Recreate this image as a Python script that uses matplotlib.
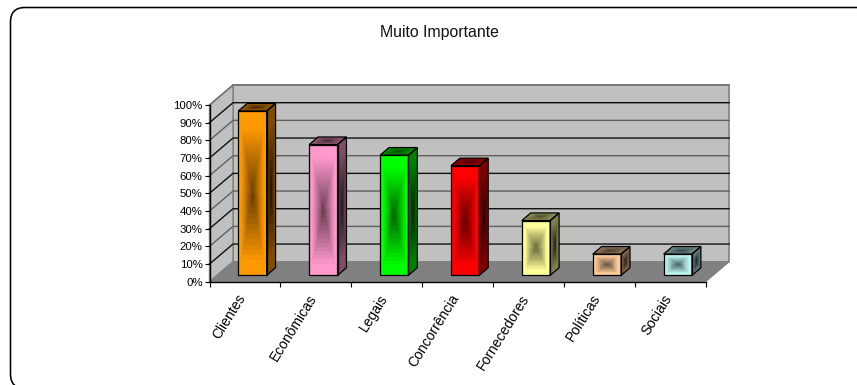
import matplotlib
matplotlib.use('Agg')
import numpy as np
import matplotlib.pyplot as plt
from matplotlib.patches import FancyBboxPatch, Polygon
from matplotlib.colors import to_rgb
from matplotlib.transforms import ScaledTranslation

# ------------ Data ---------------
categories = ['Clientes', 'Econômicas', 'Legais', 'Concorrência',
              'Fornecedores', 'Políticas', 'Sociais']
values = [93, 74, 68, 62, 31, 12, 12]
colors = ['#FF9900', '#FF99CC', '#00FF00', '#FF0000', '#FFFF99', '#FFCC99', '#BDF5F5']
y_ticks = [0, 10, 20, 30, 40, 50, 60, 70, 80, 90, 100]
y_labels = ['0%', '10%', '20%', '30%', '40%', '50%', '60%', '70%', '80%', '90%', '100%']

# oblique depth of the chart box, in data units
DX = 0.3315
DY = 11.3
BAR_W = 0.40
Z0, Z1 = 0.32, 0.70

W, H = 857, 385
plt.rcParams['font.family'] = ['Liberation Sans', 'DejaVu Sans']

fig = plt.figure(figsize=(W / 100, H / 100), dpi=100, facecolor='white')

# rounded frame, runs off the right and bottom of the picture
bg = fig.add_axes([0, 0, 1, 1])
bg.set_xlim(0, W)
bg.set_ylim(H, 0)
bg.axis('off')
bg.add_patch(FancyBboxPatch((25, 22), 880, 352, boxstyle='round,pad=14.5,rounding_size=14.5',
                            fc='white', ec='black', lw=1.15))
bg.text(439.5, 33, 'Muito Importante', ha='center', va='center', fontsize=11.4, color='#111111')

ax = fig.add_axes([209.5 / W, (H - 281.7) / H, 496.2 / W, 176.7 / H])
ax.patch.set_visible(False)


def proj(x, y, z):
    return x + z * DX, y + z * DY


def poly(pts, **kw):
    p = Polygon([proj(*q) for q in pts], closed=True, clip_on=False, **kw)
    ax.add_patch(p)


n = len(categories)
# walls and floor
poly([(0, 0, 1), (n, 0, 1), (n, 100, 1), (0, 100, 1)], fc='#C0C0C0', ec='#808080', lw=1.2, zorder=1)
poly([(0, 0, 0), (0, 0, 1), (0, 100, 1), (0, 100, 0)], fc='#C0C0C0', ec='#808080', lw=1.0, zorder=1)
poly([(0, 0, 0), (n, 0, 0), (n, 0, 1), (0, 0, 1)], fc='#808080', ec='#808080', lw=0.8, zorder=2)

# grid lines, alternate dark and gray like the source raster
for i, t in enumerate(y_ticks[1:], 1):
    c = '#606060' if i % 2 == 0 else '#101010'
    if t == 100:
        c = '#707070'
    xs, ys = zip(proj(0, t, 0), proj(0, t, 1), proj(n, t, 1))
    ax.plot(xs, ys, color=c, lw=1.0, clip_on=False, zorder=1.5)


def face(p0, pu, pv, rgb, top, bottom, nu, nv, levels=None):
    # gradient rectangle from the centre of the face outwards
    u = np.linspace(0, 1, nu + 1)
    v = np.linspace(0, 1, nv + 1)
    uu, vv = np.meshgrid(u, v)
    X = p0[0] + uu * (pu[0] - p0[0]) + vv * (pv[0] - p0[0])
    Y = p0[1] + uu * (pu[1] - p0[1]) + vv * (pv[1] - p0[1])
    uc = (u[:-1] + u[1:]) / 2 * 2 - 1
    vc = (v[:-1] + v[1:]) / 2 * 2 - 1
    ug, vg = np.meshgrid(uc, vc)
    d = np.maximum(np.abs(ug), np.abs(vg))
    if levels:
        # the banding only shows in the lower half of the source bars
        d = np.where(vg < 0, np.floor(d * levels) / levels, d)
    s = np.clip(1 - d / 0.8, 0, 1) ** 1.0
    f = top - (top - bottom) * s
    img = np.clip(np.dstack([np.array(rgb)[k] * f for k in range(3)]), 0, 1)
    ax.pcolormesh(X, Y, img, shading='flat', clip_on=False, zorder=3, antialiased=False)


for i, (val, col) in enumerate(zip(values, colors)):
    rgb = to_rgb(col)
    x0 = i + 0.5 - BAR_W / 2
    x1 = x0 + BAR_W
    nv = max(int(val * 1.8), 8)
    p = proj
    # top, side, front
    face(p(x0, val, Z0), p(x1, val, Z0), p(x0, val, Z1), rgb, 0.55, 0.28, 30, 10)
    face(p(x1, 0, Z0), p(x1, 0, Z1), p(x1, val, Z0), rgb, 0.50, 0.13, 10, nv)
    face(p(x0, 0, Z0), p(x1, 0, Z0), p(x0, val, Z0), rgb, 1.0, 0.42, 30, nv, levels=16)
    # outlines
    edge = dict(fc='none', ec='black', lw=0.9, zorder=4, joinstyle='miter')
    poly([(x0, 0, Z0), (x1, 0, Z0), (x1, val, Z0), (x0, val, Z0)], **edge)
    poly([(x1, 0, Z0), (x1, 0, Z1), (x1, val, Z1), (x1, val, Z0)], **edge)
    poly([(x0, val, Z0), (x1, val, Z0), (x1, val, Z1), (x0, val, Z1)], **edge)

ax.set_xlim(0, n)
ax.set_ylim(0, 100)
for s in ['top', 'right']:
    ax.spines[s].set_visible(False)
for s in ['left', 'bottom']:
    ax.spines[s].set_linewidth(1.0)
    ax.spines[s].set_zorder(5)
ax.set_yticks(y_ticks)
ax.set_yticklabels(y_labels, fontsize=8.2)
ax.tick_params(axis='y', length=3.5, width=0.8, pad=1.5)
ax.set_xticks(np.arange(n + 1))
ax.set_xticklabels([])
ax.tick_params(axis='x', which='major', length=3.5, width=0.8)
ax.set_xticks(np.arange(n) + 0.5, minor=True)
ax.set_xticklabels(categories, minor=True, fontsize=10, rotation=58, ha='right',
                   va='center', rotation_mode='anchor')
ax.tick_params(axis='x', which='minor', length=0, pad=10)
# nudge the slanted labels a little to the left
nudge = ScaledTranslation(-2 / 100, 0, fig.dpi_scale_trans)
for lab in ax.get_xticklabels(minor=True):
    lab.set_transform(lab.get_transform() + nudge)

fig.savefig('out.png', dpi=100)
